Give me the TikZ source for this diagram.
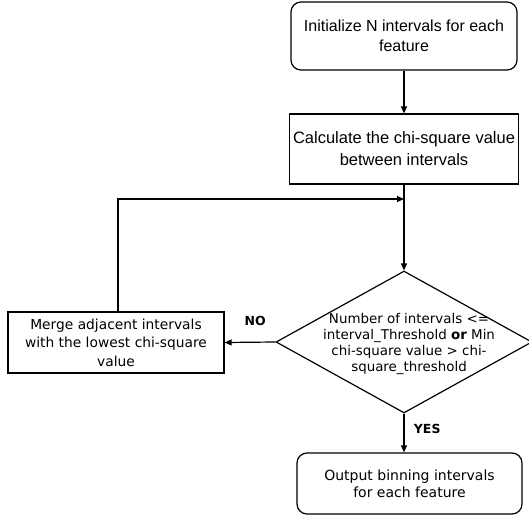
\documentclass[tikz,border=0pt]{standalone}
\usepackage{fontspec}
\setmainfont{Liberation Sans}
\newfontfamily\tahfont{DejaVu Sans}
\usetikzlibrary{arrows.meta,shapes.geometric}
\tikzset{
  >={Triangle[length=7pt,width=6pt]},
  rb/.style={rectangle,rounded corners=10pt,draw,align=center,font=\fontsize{16}{20}\selectfont},
  sb/.style={rectangle,draw,align=center},
  dm/.style={diamond,draw,inner sep=0pt},
  tx/.style={align=center,font=\tahfont\fontsize{14}{17}\selectfont},
  lb/.style={font=\tahfont\bfseries\fontsize{12.5}{15}\selectfont},
  every picture/.style={line width=1.2pt},
}
\begin{document}
\begin{tikzpicture}[x=1pt,y=-1pt]
\useasboundingbox (0,0) rectangle (528,529);
\node[rb,minimum width=226pt,minimum height=68pt] (init) at (404,36){Initialize N intervals for each\\feature};
\node[sb,minimum width=225pt,minimum height=70pt,font=\fontsize{16.5}{22}\selectfont] (calc) at (404,149){Calculate the chi-square value\\between intervals};
\node[dm,minimum width=256pt,minimum height=142pt] (check) at (404,342){};
\node[tx,font=\tahfont\fontsize{13.4}{16}\selectfont] (cond) at (409,344){Number of intervals <=\\interval\_Threshold \textbf{or} Min\\chi-square value > chi-\\square\_threshold};
\node[sb,tx,minimum width=216pt,minimum height=61pt,font=\tahfont\fontsize{13.8}{18.5}\selectfont] (merge) at (116,342.5){Merge adjacent intervals\\with the lowest chi-square\\value};
\node[rb,tx,minimum width=225pt,minimum height=61pt,text depth=0pt] (out) at (409.5,483.5){Output binning intervals\\for each feature};
\coordinate (up) at (118,199); \coordinate (join) at (404,199);
\draw[->] (init)--(calc); \draw[->] (calc)--(check.north);
\draw[->] (check.west)--node[lb,above=13pt,pos=0.4]{NO}(merge.east);
\draw[->] (check.south)--node[lb,right=6pt,pos=0.4]{YES}(check.south|-out.north);
\draw[->] (merge.north-|up)--(up)--(join);
\end{tikzpicture}
\end{document}
